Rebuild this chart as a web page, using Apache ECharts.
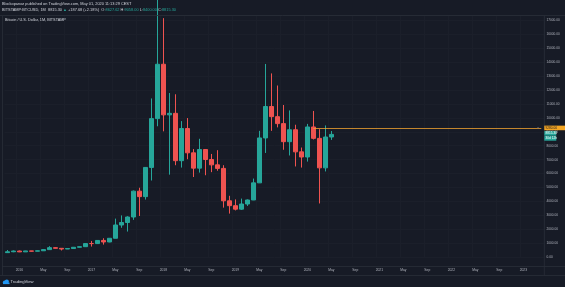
<!DOCTYPE html>
<html><head><meta charset="utf-8">
<script src="https://cdn.jsdelivr.net/npm/echarts@6/dist/echarts.min.js"></script>
<style>html,body{margin:0;padding:0;background:#171b26;overflow:hidden}#c{width:565px;height:287px;}</style>
</head><body><div id="c"></div>
<script>
// ---- data (monthly BTCUSD, Bitstamp, Nov 2015 .. May 2020) ----
const startYear = 2015, startMonth = 11, totalMonths = 90; // axis runs to Apr 2023
const opens = [314, 377,
  430, 369, 437, 416, 448, 531, 672, 624, 574, 608, 699, 742,
  966, 965, 1190, 1080, 1347, 2300, 2480, 2875, 4735, 4340, 6440, 9950,
  13860, 10220, 10330, 6925, 9240, 7490, 6390, 7730, 7010, 6625, 6370, 4040,
  3690, 3440, 3810, 4100, 5330, 8560, 10820, 10090, 9590, 8290, 9150, 7560,
  7190, 9350, 8530, 6410, 8628];
const closes = [377, 430,
  369, 437, 416, 448, 531, 672, 624, 574, 608, 699, 742, 966,
  965, 1190, 1080, 1347, 2300, 2480, 2875, 4735, 4340, 6440, 9950, 13860,
  10220, 10330, 6925, 9240, 7490, 6390, 7730, 7010, 6625, 6370, 4040, 3690,
  3440, 3810, 4100, 5330, 8560, 10820, 10090, 9590, 8290, 9150, 7560, 7190,
  9350, 8530, 6410, 8628, 8815];
const lows = [305, 345,
  351, 365, 393, 413, 437, 530, 607, 470, 570, 605, 685, 742,
  751, 933, 891, 1060, 1347, 2100, 1830, 2670, 2950, 4130, 5500, 9400,
  9035, 5920, 6600, 6430, 7030, 5750, 6070, 5880, 6100, 6200, 3550, 3120,
  3350, 3380, 3670, 4090, 5330, 7480, 9070, 9320, 7710, 7300, 6510, 6430,
  6860, 8450, 3850, 6150, 8420];
const highs = [502, 467,
  463, 448, 440, 466, 548, 778, 704, 628, 628, 720, 756, 979,
  1153, 1210, 1350, 1350, 2760, 2990, 2930, 4780, 4980, 6470, 11400, 19666,
  17176, 11790, 11700, 9770, 9990, 7760, 8500, 7760, 7410, 7680, 6600, 4400,
  4140, 4200, 4140, 5640, 9070, 13880, 13200, 12330, 10930, 10540, 9510, 7870,
  9570, 10500, 9190, 9460, 9060];
const horizLevel = 9280;          // user-drawn horizontal ray
const horizStart = '2020-02';
const lastPrice = 8815.30;
const monthTickNames = {5: 'May', 9: 'Sep'};

const categories = [];
for (let i = 0; i < totalMonths; i++) {
  const t = (startMonth - 1) + i;
  const y = startYear + Math.floor(t / 12), m = t % 12 + 1;
  categories.push(y + '-' + String(m).padStart(2, '0'));
}
const candles = opens.map((o, i) => [o, closes[i], lows[i], highs[i]]);

const FONT = '"Liberation Sans", Arial, sans-serif';
const UP = '#26a69a', DOWN = '#ef5350', FRAME = '#2a2e39', TXT = '#b2b5be';
const showTick = (idx, val) => { const m = +val.slice(5); return m === 1 || m === 5 || m === 9; };

const chart = echarts.init(document.getElementById('c'), null, {renderer: 'canvas'});
chart.setOption({
  backgroundColor: '#171b26',
  animation: false,
  grid: {left: 4.3, right: 20.7, top: 15, bottom: 30, containLabel: false},
  xAxis: {
    type: 'category', data: categories, boundaryGap: true, offset: 9,
    axisLine: {show: false}, axisTick: {show: false},
    splitLine: {show: true, interval: showTick, lineStyle: {color: '#1b1f2a', width: 1}},
    axisLabel: {
      interval: showTick, margin: 2.6, color: TXT, fontSize: 3.3, fontFamily: FONT,
      formatter: v => { const m = +v.slice(5); return m === 1 ? v.slice(0, 4) : monthTickNames[m]; }
    }
  },
  yAxis: {
    type: 'value', position: 'right', min: 0, max: 17400, interval: 1000,
    axisLine: {show: false}, axisTick: {show: false},
    splitLine: {show: true, lineStyle: {color: '#1b1f2a', width: 1}},
    axisLabel: {show: true, showMaxLabel: false, inside: false, align: 'left', margin: 2.2,
      color: TXT, fontSize: 3.2, fontFamily: FONT, formatter: v => v.toFixed(2)}
  },
  series: [{
    type: 'candlestick', data: candles, barWidth: 4.4, clip: true,
    itemStyle: {color: UP, color0: DOWN, borderColor: UP, borderColor0: DOWN, borderWidth: 1},
    markLine: {
      silent: true, symbol: ['none', 'none'], label: {show: false},
      lineStyle: {color: '#f0a230', width: 0.8, type: 'solid'},
      data: [[{coord: [horizStart, horizLevel]}, {coord: [categories[categories.length - 1], horizLevel]}]]
    }
  }]
});

const yOrange = chart.convertToPixel({yAxisIndex: 0}, horizLevel);
const yLast = chart.convertToPixel({yAxisIndex: 0}, lastPrice) - 1;
const xR = 544.3;
function line(x1, y1, x2, y2, c) { return {type: 'line', z: 50, shape: {x1, y1, x2, y2}, style: {stroke: c || FRAME, lineWidth: 0.8}}; }
function box(x, yc, w, fill, text, tc) {
  return [{type: 'rect', z: 60, shape: {x, y: yc - 2.3, width: w, height: 4.6}, style: {fill}},
          {type: 'text', z: 61, x: x + 1.2, y: yc, style: {text, fill: tc, font: '3.2px ' + FONT, verticalAlign: 'middle'}}];
}
chart.setOption({graphic: [
  line(0, 15.5, 565, 15.5), line(2, 266.5, 565, 266.5), line(0, 275.5, 565, 275.5),
  line(2.5, 15.5, 2.5, 275.5), line(xR, 15.5, xR, 275.5),
  {type: 'text', z: 60, x: 2, y: 4, style: {text: 'Blockopanoz published on TradingView.com, May 01, 2020 11:13:29 CEST', fill: '#d1d4dc', font: '3.9px ' + FONT, verticalAlign: 'middle'}},
  {type: 'text', z: 60, x: 2, y: 10.3, style: {
    text: '{w|BITSTAMP:BTCUSD, 1M  8815.30 }{g|▲}{w| +187.68 (+2.18%)  O:}{g|8627.62}{w| H:}{g|9058.00}{w| L:}{g|8400.00}{w| C:}{g|8815.30}',
    font: '3.9px ' + FONT, verticalAlign: 'middle',
    rich: {w: {fill: '#d1d4dc', font: '3.9px ' + FONT}, g: {fill: UP, font: '3.9px ' + FONT}}}},
  {type: 'text', z: 60, x: 5, y: 19.6, style: {text: 'Bitcoin / U.S. Dollar, 1M, BITSTAMP', fill: '#d1d4dc', font: '3.8px ' + FONT, verticalAlign: 'middle'}},
  ...box(xR, yOrange, 565 - xR, '#f5a623', horizLevel.toFixed(2), '#131722'),
  ...box(xR, yLast, 12, UP, lastPrice.toFixed(2), '#ffffff'),
  ...box(xR, yLast + 5, 12, UP, '30d 12h', '#ffffff'),
  {type: 'text', z: 60, x: 537, y: yOrange, style: {text: '≡', fill: '#787b86', font: '3.5px ' + FONT, verticalAlign: 'middle'}},
  {type: 'circle', z: 60, shape: {cx: 4.6, cy: 282.3, r: 1.7}, style: {fill: '#2196f3'}},
  {type: 'circle', z: 60, shape: {cx: 6.8, cy: 281.6, r: 2.1}, style: {fill: '#2196f3'}},
  {type: 'rect', z: 60, shape: {x: 3, y: 282.5, width: 6.5, height: 1.6}, style: {fill: '#2196f3'}},
  {type: 'text', z: 60, x: 10.5, y: 282, style: {text: 'TradingView', fill: '#d1d4dc', font: '4.2px ' + FONT, verticalAlign: 'middle'}}
]});
</script></body></html>
